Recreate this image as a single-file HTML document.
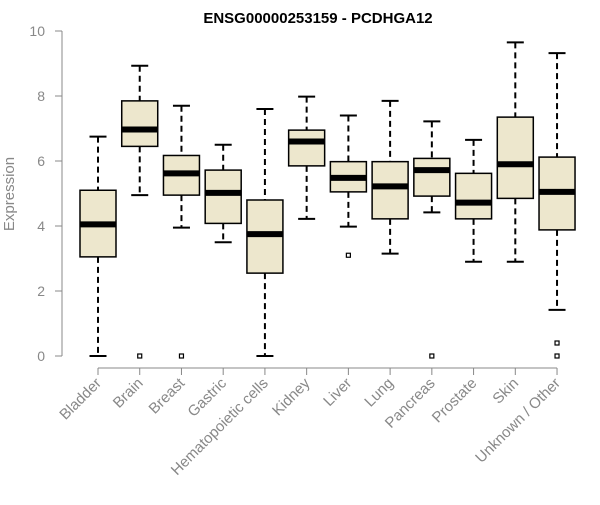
<!DOCTYPE html>
<html><head><meta charset="utf-8"><style>
body{margin:0;background:#fff;width:600px;height:500px;overflow:hidden}
svg{font-family:"Liberation Sans",sans-serif}
</style></head><body>
<svg id="chart" width="600" height="500">
<text x="318" y="23" text-anchor="middle" font-weight="bold" font-size="15" fill="#000">ENSG00000253159 - PCDHGA12</text>
<text x="14" y="194" transform="rotate(-90 14 194)" text-anchor="middle" font-size="15" fill="#888">Expression</text>
<g id="yaxis"></g>
<g id="xaxis"></g>
<g id="boxes"></g>
</svg>
<script>
const categories=["Bladder","Brain","Breast","Gastric","Hematopoietic cells","Kidney","Liver","Lung","Pancreas","Prostate","Skin","Unknown / Other"];
const lows=[0,4.95,3.95,3.5,0,4.22,3.98,3.15,4.42,2.9,2.9,1.42];
const q1s=[3.05,6.45,4.95,4.08,2.55,5.85,5.05,4.22,4.92,4.22,4.85,3.88];
const medians=[4.05,6.97,5.62,5.02,3.75,6.6,5.48,5.22,5.72,4.72,5.9,5.05];
const q3s=[5.1,7.85,6.17,5.72,4.8,6.95,5.98,5.98,6.08,5.62,7.35,6.12];
const highs=[6.75,8.93,7.7,6.5,7.6,7.98,7.4,7.85,7.22,6.65,9.65,9.32];
const outliers=[[],[0],[0],[],[],[],[3.1],[],[0],[],[],[0.4,0]];
const yTicks=[0,2,4,6,8,10];
const NS="http://www.w3.org/2000/svg";
const y=v=>356-v*32.5;
const x=i=>98+i*41.73;
function mk(p,t,a){const e=document.createElementNS(NS,t);for(const k in a)e.setAttribute(k,a[k]);p.appendChild(e);return e;}
const ya=document.getElementById('yaxis'),xa=document.getElementById('xaxis'),bx=document.getElementById('boxes');
mk(ya,'line',{x1:62,x2:62,y1:y(0),y2:y(10),stroke:'#888'});
yTicks.forEach(t=>{
 mk(ya,'line',{x1:55,x2:62,y1:y(t),y2:y(t),stroke:'#888'});
 const tx=mk(ya,'text',{x:45,y:y(t)+5,'text-anchor':'end','font-size':14,fill:'#888'});tx.textContent=t;
 
 
});
mk(xa,'line',{x1:x(0),x2:x(categories.length-1),y1:368,y2:368,stroke:'#888'});
categories.forEach((c,i)=>{
 mk(xa,'line',{x1:x(i),x2:x(i),y1:368,y2:375,stroke:'#888'});
 const tx=mk(xa,'text',{x:x(i)+4,y:384,'text-anchor':'end','font-size':15,fill:'#888',transform:`rotate(-45 ${x(i)+4} 384)`});tx.textContent=c;
 
 
 const g=mk(bx,'g',{});
 
 
 const cx=x(i),w=18,cw=8.5;
 mk(g,'line',{x1:cx,x2:cx,y1:y(highs[i]),y2:y(q3s[i]),stroke:'#000','stroke-width':2,'stroke-dasharray':'6,4'});
 mk(g,'line',{x1:cx,x2:cx,y1:y(q1s[i]),y2:y(lows[i]),stroke:'#000','stroke-width':2,'stroke-dasharray':'6,4'});
 mk(g,'line',{x1:cx-cw,x2:cx+cw,y1:y(highs[i]),y2:y(highs[i]),stroke:'#000','stroke-width':2});
 mk(g,'line',{x1:cx-cw,x2:cx+cw,y1:y(lows[i]),y2:y(lows[i]),stroke:'#000','stroke-width':2});
 mk(g,'rect',{x:cx-w,y:y(q3s[i]),width:2*w,height:y(q1s[i])-y(q3s[i]),fill:'#ede7cd',stroke:'#000','stroke-width':1.5});
 mk(g,'line',{x1:cx-w,x2:cx+w,y1:y(medians[i]),y2:y(medians[i]),stroke:'#000','stroke-width':6});
 outliers[i].forEach(o=>mk(g,'rect',{x:cx-2,y:y(o)-2,width:4,height:4,fill:'none',stroke:'#000','stroke-width':1.2}));
});
</script>
</body></html>
